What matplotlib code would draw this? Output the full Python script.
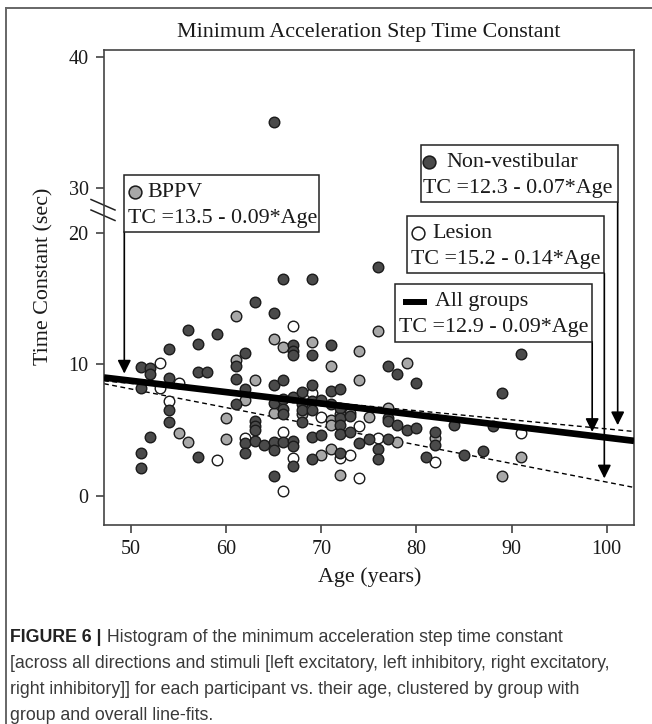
import numpy as np
import matplotlib
matplotlib.use('Agg')
import matplotlib.pyplot as plt
from matplotlib.lines import Line2D

plt.rcParams['font.family'] = ['Liberation Serif', 'DejaVu Serif']

# ---- data ----
nonvest_age = [51, 51, 51, 51, 52, 52, 52, 54, 54, 54, 54, 56, 57, 57, 57, 58, 59,
               61, 61, 61, 62, 62, 62, 62, 63, 63, 63, 63, 63, 64,
               65, 65, 65, 65, 65, 65, 65, 66, 66, 66, 66, 66, 66,
               67, 67, 67, 67, 67, 67, 67, 68, 68, 68, 68,
               69, 69, 69, 69, 69, 69, 69, 70, 70, 71, 71, 71,
               72, 72, 72, 72, 72, 72, 73, 73, 74, 75, 76, 76, 76,
               77, 77, 77, 77, 78, 78, 79, 80, 80, 81, 82, 82, 84, 85, 87, 88, 89, 91]
nonvest_tc = [9.8, 8.2, 3.3, 2.1, 9.7, 9.3, 4.5, 11.2, 9.0, 6.5, 5.6, 12.6, 11.55, 9.4, 3.0, 9.4, 12.3,
              9.9, 8.9, 7.0, 10.9, 8.1, 4.0, 3.3, 14.7, 5.7, 5.3, 5.0, 4.2, 3.9,
              35.0, 13.9, 8.4, 7.1, 4.1, 3.5, 1.5, 16.5, 8.8, 7.4, 6.6, 6.2, 4.1,
              11.5, 11.0, 10.7, 7.5, 4.2, 3.8, 2.3, 7.9, 7.0, 6.5, 5.6,
              16.5, 10.7, 8.4, 7.2, 6.5, 4.5, 2.8, 7.3, 4.6, 11.5, 8.0, 7.0,
              8.1, 6.7, 5.9, 5.4, 4.7, 3.3, 6.1, 4.9, 4.0, 4.3, 17.4, 3.6, 2.8,
              9.9, 5.9, 5.7, 4.3, 9.3, 5.4, 5.0, 8.6, 5.2, 3.0, 4.9, 3.9, 5.4, 3.1, 3.4, 5.3, 7.8, 10.8]

bppv_age = [55, 56, 60, 60, 61, 61, 62, 63, 65, 65, 66, 68, 69, 70, 71, 71, 71, 71,
            72, 72, 73, 74, 74, 75, 76, 77, 78, 79, 82, 89, 91]
bppv_tc = [4.75, 4.1, 5.9, 4.35, 13.7, 10.3, 7.3, 8.85, 11.9, 6.3, 11.3, 6.2, 11.7, 3.1, 9.9, 5.8, 5.4, 3.6,
           6.2, 1.6, 6.3, 11.0, 8.8, 6.0, 12.5, 6.7, 4.1, 10.1, 4.4, 1.5, 3.0]

lesion_age = [53, 53, 54, 55, 59, 62, 66, 66, 67, 67, 69, 70, 72, 73, 74, 74, 76, 82, 91]
lesion_tc = [10.1, 8.2, 7.2, 8.6, 2.7, 4.4, 4.9, 0.35, 12.9, 2.9, 7.8, 6.0, 2.9, 3.1, 5.3, 1.4, 4.4, 2.6, 4.8]

# line fits (as drawn): bppv, nonvest, lesion, all
fit_intercept = [13.3, 12.0, 15.2, 13.07]
fit_slope = [-0.09, -0.069, -0.1414, -0.0863]

box_names = ['BPPV', 'Non-vestibular', 'Lesion', 'All groups']
box_eqs = ['TC =13.5 - 0.09*Age', 'TC =12.3 - 0.07*Age', 'TC =15.2 - 0.14*Age', 'TC =12.9 - 0.09*Age']
arrow_tip = [9.3, 5.38, 1.34, 4.87]

xticks = [50, 60, 70, 80, 90, 100]
yticks = [0, 10, 20, 30, 40]

# ---- broken y axis: 20..30 squashed ----
GAP = 3.37


def fwd(y):
    y = np.asarray(y, dtype=float)
    return np.where(y <= 20, y, np.where(y >= 30, y - 10 + GAP, 20 + (y - 20) * GAP / 10))


def inv(z):
    z = np.asarray(z, dtype=float)
    return np.where(z <= 20, z, np.where(z >= 20 + GAP, z + 10 - GAP, 20 + (z - 20) * 10 / GAP))


W, H = 652, 724
fig = plt.figure(figsize=(W / 100, H / 100), dpi=100)
ax = fig.add_axes([104 / W, 1 - 524.5 / H, 530 / W, 474.5 / H])
ax.set_yscale('function', functions=(fwd, inv))
ax.set_xlim(47.16, 102.87)
ax.set_ylim(-2.16, 40.5)

xs = np.array(ax.get_xlim())
for i in range(3):
    ax.plot(xs, fit_intercept[i] + fit_slope[i] * xs, color='black', lw=1.0,
            dashes=(3.5, 2.5), zorder=1.5)

mk = dict(s=58, edgecolors='#1a1a1a', linewidths=1.0, zorder=2)
ax.scatter(lesion_age, lesion_tc, c='white', **mk)
ax.scatter(bppv_age, bppv_tc, c='#a8a8a8', **mk)
ax.scatter(nonvest_age, nonvest_tc, c='#4a4a4a', **mk)

ax.plot(xs, fit_intercept[3] + fit_slope[3] * xs, color='black', lw=4.8,
        solid_capstyle='butt', zorder=3)

ax.set_xticks(xticks)
ax.set_yticks(yticks)
ax.tick_params(direction='out', length=6, width=1.1, labelsize=14.5,
               colors='#333333', labelcolor='#1a1a1a', pad=5)
for s in ax.spines.values():
    s.set_color('#444444')
    s.set_linewidth(1.2)

# break marks on the y axis
for dy in (0, 10.5):
    ax.add_line(Line2D([(91 - 104) / 530, (115 - 104) / 530],
                       [(524.5 - 199.5 - dy) / 474.5, (524.5 - 210 - dy) / 474.5],
                       transform=ax.transAxes, color='#222222', lw=1.1, clip_on=False))

# legend boxes with arrows (axes fraction layout)
boxes = [(0.0383, 0.617, 0.4057, 0.7366), (0.5975, 0.679, 0.9692, 0.7998),
         (0.5723, 0.5294, 0.9440, 0.6502), (0.5494, 0.3853, 0.9211, 0.5062)]
arrow_x = [0.0383, 0.9692, 0.9440, 0.9211]
mark_x = [0.0585, 0.6138, 0.593, None]
name_x = [0.0815, 0.6453, 0.6202, 0.6245]
eq_x = [0.0453, 0.6013, 0.5787, 0.5572]
mark_fc = ['#a8a8a8', '#4a4a4a', 'white']

for i in range(4):
    x0, y0, x1, y1 = boxes[i]
    ax.add_patch(plt.Rectangle((x0, y0), x1 - x0, y1 - y0, transform=ax.transAxes,
                               facecolor='white', edgecolor='#222222', lw=1.1, zorder=5))
    ytop = y1 - 0.3 * (y1 - y0)
    ybot = y0 + 0.24 * (y1 - y0)
    if mark_x[i] is not None:
        ax.scatter([mark_x[i]], [ytop], transform=ax.transAxes, s=85, c=mark_fc[i],
                   edgecolors='#1a1a1a', linewidths=1.1, zorder=6, clip_on=False)
    else:
        ax.plot([0.5636, 0.61], [ytop, ytop], transform=ax.transAxes, color='black',
                lw=4.3, solid_capstyle='butt', zorder=6)
    ax.text(name_x[i], ytop, box_names[i], transform=ax.transAxes, fontsize=15.8,
            va='center', ha='left', zorder=6, color='#1a1a1a')
    ax.text(eq_x[i], ybot, box_eqs[i], transform=ax.transAxes, fontsize=15.8,
            va='center', ha='left', zorder=6, color='#1a1a1a')
    ax.annotate('', xy=(arrow_x[i], arrow_tip[i]), xycoords=('axes fraction', 'data'),
                xytext=(arrow_x[i], y0), textcoords='axes fraction',
                arrowprops=dict(arrowstyle='-|>', color='black', lw=1.2,
                                mutation_scale=20, shrinkA=0, shrinkB=0), zorder=4)

fig.text(369 / W, 1 - 32.5 / H, 'Minimum Acceleration Step Time Constant', fontsize=15.8,
         ha='center', va='center', color='#1a1a1a')
fig.text(370 / W, 1 - 577 / H, 'Age (years)', fontsize=15.8, ha='center', va='center',
         color='#1a1a1a')
fig.text(44 / W, 1 - 276 / H, 'Time Constant (sec)', fontsize=15.8, rotation=90,
         ha='center', va='center', color='#1a1a1a')

# frame around the figure panel
fig.add_artist(Line2D([6 / W, 1], [1 - 8 / H, 1 - 8 / H], transform=fig.transFigure,
                      color='#666666', lw=1.4))
fig.add_artist(Line2D([6 / W, 6 / W], [0, 1 - 8 / H], transform=fig.transFigure,
                      color='#666666', lw=1.4))

# caption
cap = ['Histogram of the minimum acceleration step time constant',
       '[across all directions and stimuli [left excitatory, left inhibitory, right excitatory,',
       'right inhibitory]] for each participant vs. their age, clustered by group with',
       'group and overall line-fits.']
cap_y = [637, 663, 689, 715]
sans = ['Liberation Sans', 'DejaVu Sans']
t0 = fig.text(10 / W, 1 - cap_y[0] / H, 'FIGURE 6 |', fontsize=12.8, family=sans,
              weight='bold', va='center', ha='left', color='#222222')
ax.annotate(' ' + cap[0], xy=(1, 0.5), xycoords=t0, va='center', ha='left',
            fontsize=12.8, family=sans, color='#3a3a3a', annotation_clip=False)
for k in range(1, 4):
    fig.text(10 / W, 1 - cap_y[k] / H, cap[k], fontsize=12.8, family=sans,
             va='center', ha='left', color='#3a3a3a')

fig.savefig('out.png', dpi=100)
